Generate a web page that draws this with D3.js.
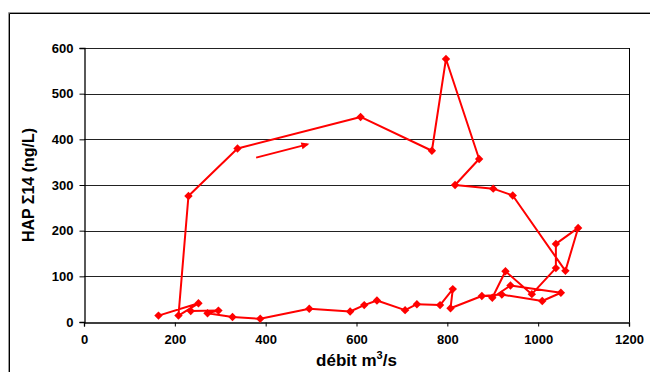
<!DOCTYPE html>
<html><head><meta charset="utf-8">
<script src="https://cdn.jsdelivr.net/npm/d3@7"></script>
<style>body{margin:0;background:#fff;}svg{display:block;font-family:"Liberation Sans",Arial,sans-serif;}</style>
</head><body><svg id="c" width="650" height="372"></svg>
<script>
// chronological sequence of samples
const debit = [164,252,208,230,338,609,766,797,870,817,901,944,1060,1088,1039,1039,986,928,899,939,1050,1009,920,876,807,812,784,733,707,645,617,586,496,388,327,272,296,235];
const hap   = [14,41,14,276,380,449,375,576,357,300,292,277,112,206,171,118,61,111,53,80,64,46,60,57,30,72,37,39,26,47,37,23,29,7,11,19,25,24];
const xTicks = [0,200,400,600,800,1000,1200];
const yTicks = [0,100,200,300,400,500,600];
const arrowFrom = [379,360], arrowTo = [492,389];
const xTitle = "débit m", yTitle = "HAP Σ14 (ng/L)";

const svg = d3.select("#c");
const L=84, R=629, T=48, B=322;
const x = d3.scaleLinear().domain([0,1200]).range([L,R]);
const y = d3.scaleLinear().domain([0,600]).range([B,T]);

// outer frame
svg.append("path").attr("d","M8.5,372 V12.5 H650").attr("fill","none").attr("stroke","#999").attr("stroke-width",1);
svg.append("path").attr("d","M9.5,372 V13.5 H650").attr("fill","none").attr("stroke","#000").attr("stroke-width",1);

// gridlines
svg.append("g").selectAll("line").data(yTicks.filter(d=>d>0)).join("line")
  .attr("x1",L).attr("x2",R).attr("y1",d=>Math.round(y(d))+0.5).attr("y2",d=>Math.round(y(d))+0.5)
  .attr("stroke","#222").attr("stroke-width",1);
// right border
svg.append("line").attr("x1",R+0.5).attr("x2",R+0.5).attr("y1",T).attr("y2",B).attr("stroke","#000");

// axes
const xa = svg.append("g").attr("transform",`translate(0,${B+0.5})`)
  .call(d3.axisBottom(x).tickValues(xTicks).tickSize(4).tickPadding(8).tickFormat(d3.format("d")));
const ya = svg.append("g").attr("transform",`translate(${L+0.5},0)`)
  .call(d3.axisLeft(y).tickValues(yTicks).tickSize(5).tickPadding(6).tickFormat(d3.format("d")));
[xa,ya].forEach(g=>{
  g.select(".domain").attr("stroke","#000").attr("stroke-width",1.3);
  g.selectAll(".tick line").attr("stroke","#000");
  g.selectAll("text").attr("font-size",13).attr("font-weight","bold").attr("fill","#000").attr("font-family","Liberation Sans, Arial, sans-serif");
});

// titles
const xt = svg.append("text").attr("x",(L+R)/2).attr("y",366).attr("text-anchor","middle")
  .attr("font-size",17).attr("font-weight","bold");
xt.append("tspan").text(xTitle);
xt.append("tspan").attr("dy",-7).attr("font-size",11).text("3");
xt.append("tspan").attr("dy",7).text("/s");
svg.append("text").attr("transform",`translate(34,${(T+B)/2}) rotate(-90)`).attr("text-anchor","middle")
  .attr("font-size",16).attr("font-weight","bold").text(yTitle);

// data line
const pts = debit.map((d,i)=>[d,hap[i]]);
svg.append("path").datum(pts)
  .attr("d",d3.line().x(d=>x(d[0])).y(d=>y(d[1])))
  .attr("fill","none").attr("stroke","#ff0000").attr("stroke-width",2).attr("stroke-linejoin","round");
const s=4.2;
svg.append("g").selectAll("path").data(pts).join("path")
  .attr("transform",d=>`translate(${x(d[0])},${y(d[1])})`)
  .attr("d",`M0,${-s}L${s},0L0,${s}L${-s},0Z`).attr("fill","#ff0000");

// arrow
const ax1=x(arrowFrom[0]), ay1=y(arrowFrom[1]), ax2=x(arrowTo[0]), ay2=y(arrowTo[1]);
svg.append("line").attr("x1",ax1).attr("y1",ay1).attr("x2",ax2).attr("y2",ay2)
  .attr("stroke","#ff0000").attr("stroke-width",2);
const ang=Math.atan2(ay2-ay1,ax2-ax1);
svg.append("path").attr("transform",`translate(${ax2},${ay2}) rotate(${ang*180/Math.PI})`)
  .attr("d","M2,0L-6,-3.5L-6,3.5Z").attr("fill","#ff0000");
</script></body></html>
